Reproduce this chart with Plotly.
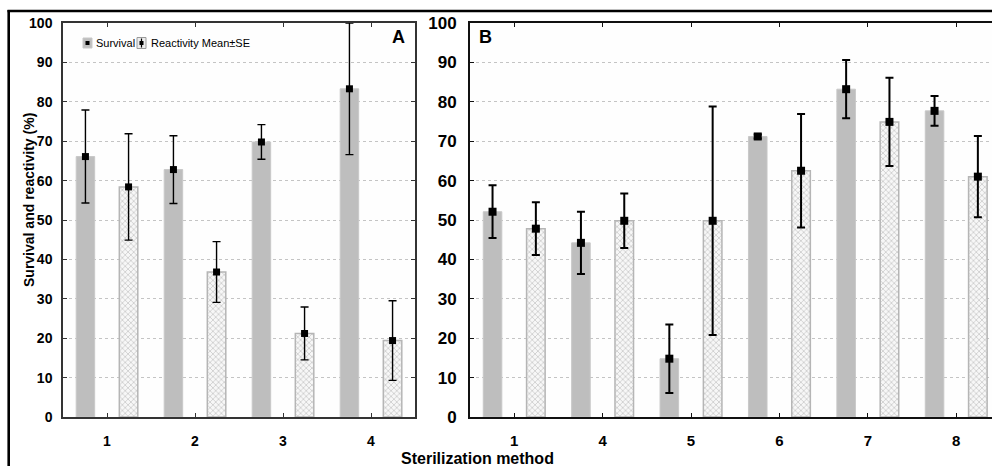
import plotly.graph_objects as go
import numpy as np

# ---------------- data ----------------
cats_a = ["1", "2", "3", "4"]
surv_a = [66.1, 62.8, 69.8, 83.3]
surv_a_se = [11.8, 8.6, 4.4, 16.7]
reac_a = [58.4, 36.8, 21.2, 19.4]
reac_a_se = [13.5, 7.7, 6.7, 10.1]

cats_b = ["1", "4", "5", "6", "7", "8"]
surv_b = [52.1, 44.2, 14.8, 71.2, 83.2, 77.7]
surv_b_se = [6.7, 7.9, 8.7, 0.5, 7.4, 3.8]
reac_b = [47.8, 49.8, 49.8, 62.5, 74.9, 61.0]
reac_b_se = [6.7, 6.9, 29.0, 14.4, 11.2, 10.3]

y_ticks = [0, 10, 20, 30, 40, 50, 60, 70, 80, 90, 100]

# ---------------- style ----------------
W, H = 992, 466
OFF = 0.245
BW = 0.21
SURV_FILL = "#bebebe"
SURV_LINE = "#c8c8c8"
ARIAL = "Liberation Sans, Arial"


def px(x):
    return x / W


def py(y):
    return 1 - y / H


fig = go.Figure()


def add_panel(cats, surv, surv_se, reac, reac_se, xa, ya, thick, msize):
    pos = np.arange(1, len(cats) + 1)
    xs = pos - OFF
    xr = pos + OFF
    fig.add_trace(go.Bar(x=xs, y=surv, width=BW, xaxis=xa, yaxis=ya,
                         marker=dict(color=SURV_FILL, line=dict(color=SURV_LINE, width=1)),
                         showlegend=False, name="Survival"))
    fig.add_trace(go.Bar(x=xr, y=reac, width=BW, xaxis=xa, yaxis=ya,
                         marker=dict(color="#f7f7f7",
                                     line=dict(color="#b5b5b5", width=1.5),
                                     pattern=dict(shape="x", fgcolor="#9c9c9c", bgcolor="#f7f7f7",
                                                  size=4, solidity=0.35)),
                         showlegend=False, name="Reactivity"))
    for xv, yv, se in ((xs, surv, surv_se), (xr, reac, reac_se)):
        fig.add_trace(go.Scatter(x=xv, y=yv, xaxis=xa, yaxis=ya, mode="markers",
                                 marker=dict(symbol="square", size=msize, color="black"),
                                 error_y=dict(type="data", array=se, color="black",
                                              thickness=thick, width=4),
                                 showlegend=False, cliponaxis=True))


add_panel(cats_a, surv_a, surv_a_se, reac_a, reac_a_se, "x", "y", 1.4, 7)
add_panel(cats_b, surv_b, surv_b_se, reac_b, reac_b_se, "x2", "y2", 2.0, 8)

ydom = [py(417), py(23)]

common_y = dict(range=[0, 100], tickvals=y_ticks, showgrid=True, gridcolor="#c4c4c4",
                griddash="dot", gridwidth=1, zeroline=False, showline=True,
                ticks="inside", ticklen=4, automargin=False)

fig.update_layout(
    width=W, height=H,
    margin=dict(l=0, r=0, t=0, b=0, autoexpand=False),
    paper_bgcolor="white",
    plot_bgcolor="#fefefe",
    barmode="overlay",
    showlegend=False,
    xaxis=dict(domain=[px(63), px(415)], range=[0.5, 4.5], automargin=False,
               tickvals=list(range(1, len(cats_a) + 1)), ticktext=cats_a,
               showline=True, linecolor="#333333", linewidth=1.5, mirror="ticks",
               ticks="inside", ticklen=4, tickcolor="#333333", showgrid=False, zeroline=False,
               tickfont=dict(family=ARIAL, size=14, color="black", weight="bold"),
               ticklabelstandoff=10),
    yaxis=dict(domain=ydom, **common_y, linecolor="#333333", linewidth=1.5, mirror="ticks",
               tickcolor="#333333",
               tickfont=dict(family=ARIAL, size=14, color="black", weight="bold"),
               ticklabelstandoff=6),
    xaxis2=dict(domain=[px(470), 1.0], range=[0.5, 0.5 + 522 / 88.4], automargin=False,
                tickvals=list(range(1, len(cats_b) + 1)), ticktext=cats_b,
                showline=True, linecolor="#111111", linewidth=2, mirror="ticks",
                ticks="inside", ticklen=4, tickcolor="#111111", showgrid=False, zeroline=False,
                tickfont=dict(family=ARIAL, size=15, color="black", weight="bold"),
                ticklabelstandoff=9),
    yaxis2=dict(domain=ydom, anchor="x2", **common_y, linecolor="#111111", linewidth=2,
                mirror=False, tickcolor="#111111",
                tickfont=dict(family=ARIAL, size=17, color="black", weight="bold"),
                ticklabelstandoff=8),
)

annotations = [
    dict(text="<b>Sterilization method</b>", x=px(477), y=py(458), xref="paper", yref="paper",
         showarrow=False, font=dict(family=ARIAL, size=16, color="black"),
         xanchor="center", yanchor="middle"),
    dict(text="<b>Survival and reactivity (%)</b>", x=px(29), y=py(200), xref="paper", yref="paper",
         showarrow=False, textangle=-90, font=dict(family=ARIAL, size=14, color="black"),
         xanchor="center", yanchor="middle"),
    dict(text="<b>A</b>", x=px(398), y=py(37), xref="paper", yref="paper", showarrow=False,
         font=dict(family=ARIAL, size=18, color="black"), xanchor="center", yanchor="middle"),
    dict(text="<b>B</b>", x=px(485), y=py(37), xref="paper", yref="paper", showarrow=False,
         font=dict(family=ARIAL, size=18, color="black"), xanchor="center", yanchor="middle"),
    dict(text="Survival", x=px(94), y=py(43), xref="paper", yref="paper", showarrow=False,
         font=dict(family=ARIAL, size=11, color="black"), xanchor="left", yanchor="middle"),
    dict(text="Reactivity Mean±SE", x=px(149), y=py(43), xref="paper", yref="paper", showarrow=False,
         font=dict(family=ARIAL, size=11, color="black"), xanchor="left", yanchor="middle"),
]
fig.update_layout(annotations=annotations)

shapes = [
    # outer frame (left and top)
    dict(type="line", xref="paper", yref="paper", x0=px(8.7), x1=px(8.7), y0=py(10), y1=0,
         line=dict(color="black", width=2.6)),
    dict(type="line", xref="paper", yref="paper", x0=px(7.5), x1=1, y0=py(11), y1=py(11),
         line=dict(color="black", width=2.4)),
    # legend icon 1 (survival)
    dict(type="rect", xref="paper", yref="paper", x0=px(83), x1=px(92), y0=py(48), y1=py(38),
         fillcolor=SURV_FILL, line=dict(color=SURV_LINE, width=1)),
    dict(type="rect", xref="paper", yref="paper", x0=px(85.5), x1=px(89.5), y0=py(45), y1=py(41),
         fillcolor="black", line=dict(width=0)),
    # legend icon 2 (reactivity mean +/- SE)
    dict(type="rect", xref="paper", yref="paper", x0=px(137), x1=px(146), y0=py(48.5), y1=py(37.5),
         fillcolor="#ececec", line=dict(color="#9a9a9a", width=1)),
    dict(type="line", xref="paper", yref="paper", x0=px(141.5), x1=px(141.5), y0=py(47.5), y1=py(38.5),
         line=dict(color="black", width=1.2)),
    dict(type="rect", xref="paper", yref="paper", x0=px(139.5), x1=px(143.5), y0=py(45), y1=py(41),
         fillcolor="black", line=dict(width=0)),
]
fig.update_layout(shapes=shapes)

fig.write_html("out.html")
